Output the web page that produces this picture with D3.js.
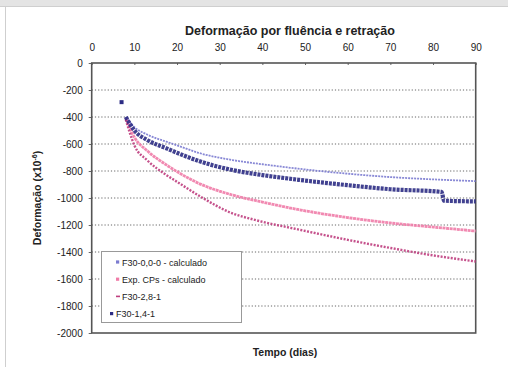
<!DOCTYPE html>
<html>
<head>
    <meta charset="utf-8">
    <title>Deformação por fluência e retração</title>
    <script src="https://cdn.jsdelivr.net/npm/d3@7"></script>
    <style>
        body { margin: 0; background: #fff; }
        text { font-family: "Liberation Sans", Arial, sans-serif; fill: #222; }
        .grid line { stroke: #666; stroke-dasharray: 1.2,2; stroke-width: 1; }
    </style>
</head>
<body>
    <div id="chart"></div>
    <script>
        // values (days, strain x10^-6)
        var xTicks = [0, 10, 20, 30, 40, 50, 60, 70, 80, 90];
        var yTicks = [0, -200, -400, -600, -800, -1000, -1200, -1400, -1600, -1800, -2000];

        var daysA = [8, 10, 13, 17.5, 20, 25, 33, 40, 49, 60, 70, 80, 90];
        var valsA = [-400, -475, -530, -583, -610, -665, -719, -750, -785, -820, -845, -862, -875];

        var daysB = [7, 8, 10, 13, 17.5, 20, 25, 33, 40, 49, 60, 70, 82, 82.6, 90];
        var valsB = [-290, -400, -500, -570, -632, -665, -725, -793, -830, -867, -905, -935, -955, -1020, -1025];

        var daysC = [8, 10, 13, 17.5, 20, 25, 33, 40, 49, 60, 70, 80, 90];
        var valsC = [-410, -550, -650, -755, -805, -890, -978, -1030, -1089, -1145, -1185, -1215, -1245];

        var daysD = [8, 10, 13, 17.5, 20, 25, 33, 38, 49, 60, 70, 80, 90];
        var valsD = [-420, -610, -720, -830, -880, -980, -1114, -1160, -1237, -1310, -1370, -1425, -1470];

        var legendLabels = ["F30-0,0-0 - calculado", "Exp. CPs - calculado", "F30-2,8-1", "F30-1,4-1"];
        var colors = ["#7b7bd0", "#f07ca8", "#bf3f7f", "#2c2c84"];

        var width = 508, height = 367;
        var svg = d3.select("#chart").append("svg")
            .attr("width", width)
            .attr("height", height);

        // page frame
        svg.append("rect").attr("x", 0).attr("y", 0).attr("width", width).attr("height", 6).attr("fill", "#e4e4e4");
        svg.append("line").attr("x1", 0).attr("x2", width).attr("y1", 6.5).attr("y2", 6.5).attr("stroke", "#cfcfcf");
        svg.append("line").attr("x1", 5.5).attr("x2", 5.5).attr("y1", 6).attr("y2", height).attr("stroke", "#cfcfcf");

        var margin = { left: 91.7, right: 475.7, top: 63, bottom: 333 };

        var x = d3.scaleLinear().domain([0, 90]).range([margin.left, margin.right]);
        var y = d3.scaleLinear().domain([0, -2000]).range([margin.top, margin.bottom]);

        // gridlines
        svg.append("g").attr("class", "grid")
            .selectAll("line")
            .data(yTicks.slice(1, -1))
            .enter().append("line")
            .attr("x1", margin.left).attr("x2", margin.right)
            .attr("y1", d => y(d)).attr("y2", d => y(d));

        // top axis
        var xAxis = svg.append("g")
            .attr("transform", "translate(0," + margin.top + ")")
            .call(d3.axisTop(x).tickValues(xTicks).tickSize(-2).tickPadding(12));
        xAxis.select(".domain").remove();
        xAxis.selectAll("line").attr("stroke", "#666");
        xAxis.selectAll("text").attr("font-size", "10px").attr("fill", "#222");

        // left axis
        var yAxis = svg.append("g")
            .attr("transform", "translate(" + margin.left + ",0)")
            .call(d3.axisLeft(y).tickValues(yTicks).tickSize(3).tickPadding(6)
                .tickFormat(d => String(d)));
        yAxis.select(".domain").remove();
        yAxis.selectAll("line").attr("stroke", "#666");
        yAxis.selectAll("text").attr("font-size", "10px").attr("fill", "#222");

        // plot frame
        svg.append("rect")
            .attr("x", margin.left).attr("y", margin.top)
            .attr("width", margin.right - margin.left)
            .attr("height", margin.bottom - margin.top)
            .attr("fill", "none").attr("stroke", "#555").attr("stroke-width", 1.6);

        function pts(days, vals) {
            return days.map((d, i) => [d, vals[i]]);
        }

        var line = d3.line()
            .x(d => x(d[0]))
            .y(d => y(d[1]))
            .curve(d3.curveMonotoneX);

        var series = [
            { data: pts(daysA, valsA), color: colors[0], w: 1.8, dash: "2,1" },
            { data: pts(daysC, valsC), color: colors[1], w: 2.8, dash: "3,0.6" },
            { data: pts(daysD, valsD), color: colors[2], w: 2.4, dash: "2,1.4" },
            { data: pts(daysB, valsB).slice(1), color: colors[3], w: 4.2, dash: "3,1" }
        ];

        svg.append("g").selectAll("path")
            .data(series)
            .enter().append("path")
            .attr("d", d => line(d.data))
            .attr("fill", "none")
            .attr("stroke", d => d.color)
            .attr("stroke-width", d => d.w)
            .attr("stroke-dasharray", d => d.dash)
            .attr("opacity", 0.9);

        // first reading of F30-1,4-1, drawn on its own
        svg.append("rect")
            .attr("x", x(daysB[0]) - 2).attr("y", y(valsB[0]) - 2)
            .attr("width", 4).attr("height", 4)
            .attr("fill", colors[3]);

        // titles
        svg.append("text")
            .attr("x", 290).attr("y", 35)
            .attr("text-anchor", "middle")
            .attr("font-size", "12.5px").attr("font-weight", "bold")
            .text("Deformação por fluência e retração");

        svg.append("text")
            .attr("x", 285).attr("y", 356)
            .attr("text-anchor", "middle")
            .attr("font-size", "10.5px").attr("font-weight", "bold")
            .text("Tempo (dias)");

        var yt = svg.append("text")
            .attr("transform", "translate(41,198) rotate(-90)")
            .attr("text-anchor", "middle")
            .attr("font-size", "10.5px").attr("font-weight", "bold");
        yt.append("tspan").text("Deformação (x10");
        yt.append("tspan").attr("dy", -4).attr("font-size", "7px").text("-6");
        yt.append("tspan").attr("dy", 4).text(")");

        // legend
        var legend = svg.append("g");
        legend.append("rect")
            .attr("x", 101.5).attr("y", 251.5)
            .attr("width", 140).attr("height", 71)
            .attr("fill", "#fff").attr("stroke", "#999").attr("stroke-width", 1);

        var items = legend.selectAll("g.item")
            .data(legendLabels)
            .enter().append("g")
            .attr("transform", (d, i) => "translate(0," + (262 + i * 17.2) + ")");

        items.append("rect")
            .attr("x", (d, i) => i === 3 ? 110 : 116)
            .attr("y", (d, i) => i === 2 ? -0.8 : -1.6)
            .attr("width", (d, i) => i === 2 ? 4 : 3.2)
            .attr("height", (d, i) => i === 2 ? 1.6 : 3.2)
            .attr("fill", (d, i) => colors[i]);

        items.append("text")
            .attr("x", (d, i) => i === 3 ? 116 : 122)
            .attr("y", 3.5)
            .attr("font-size", "9px")
            .attr("fill", "#333")
            .text(d => d);
    </script>
</body>
</html>
